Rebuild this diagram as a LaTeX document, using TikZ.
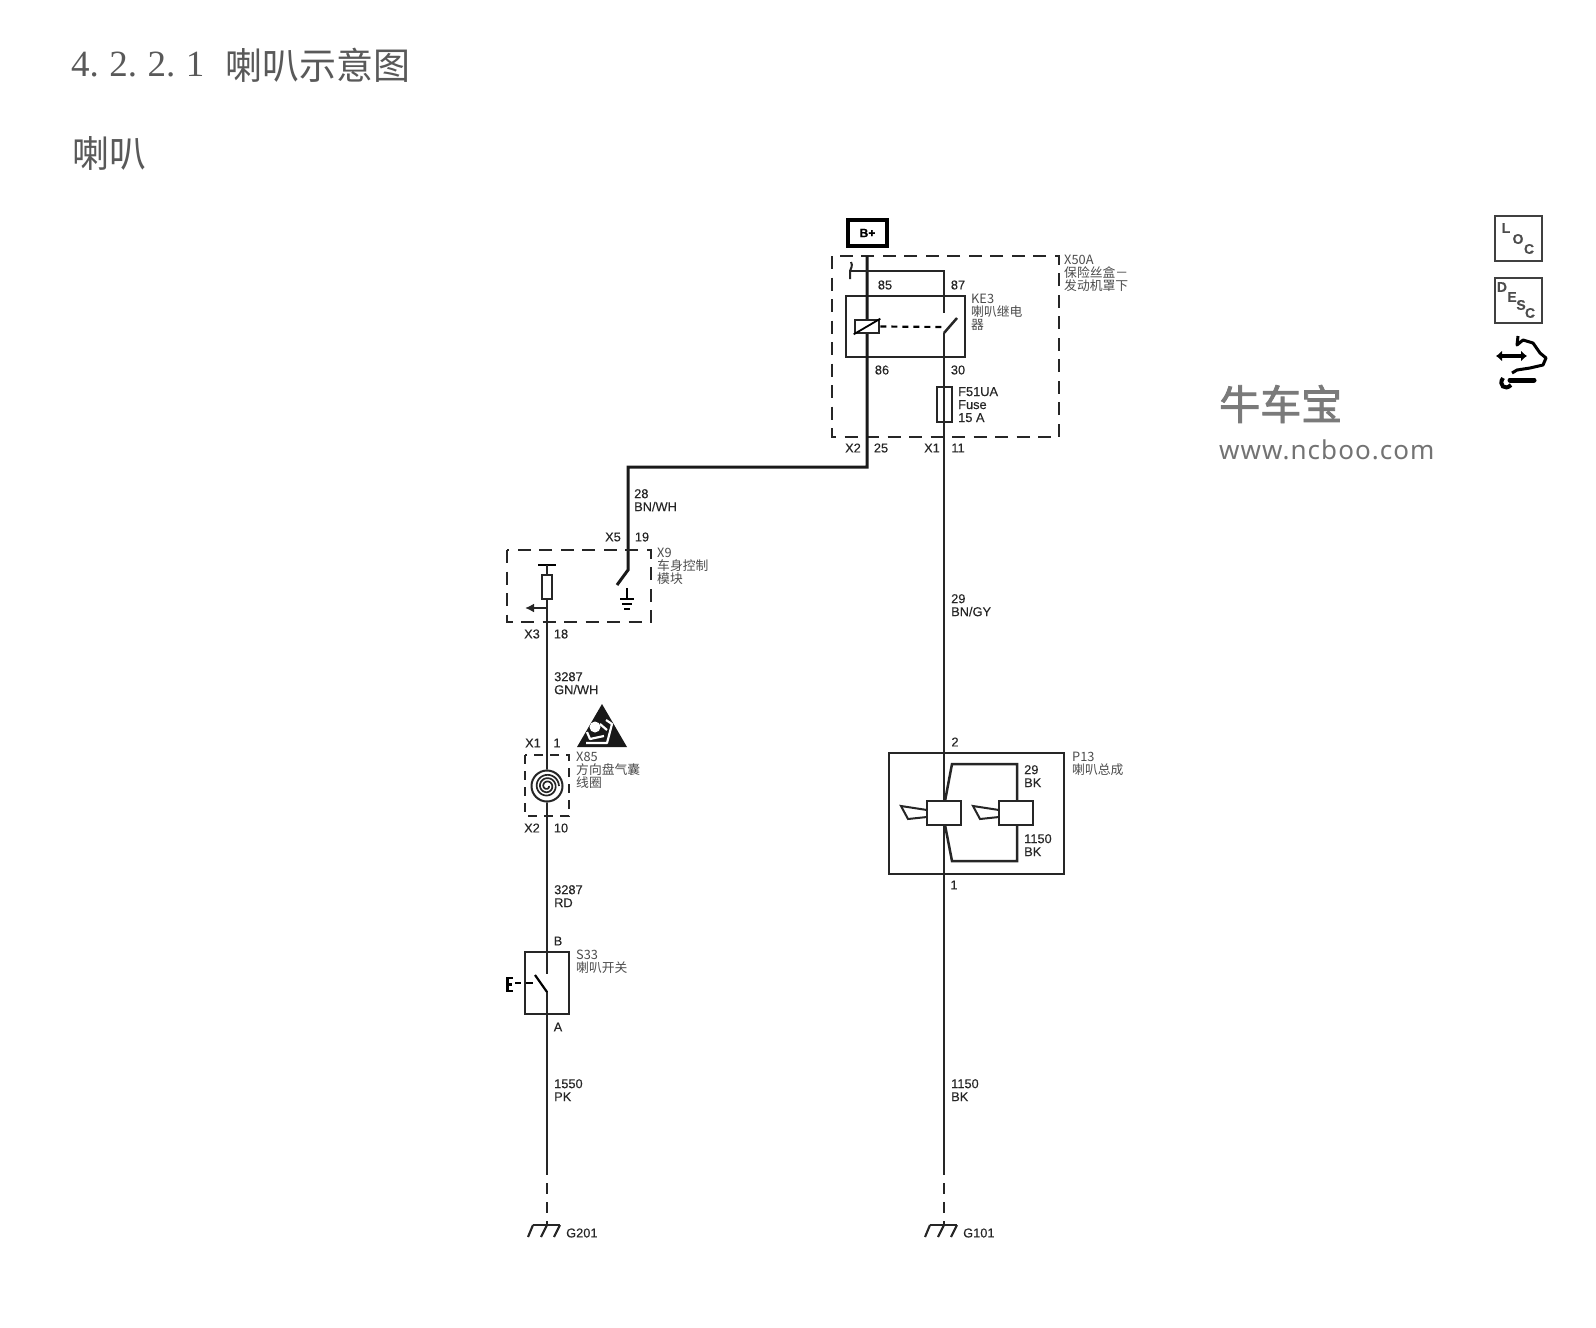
\documentclass[tikz,border=0pt]{standalone}
\usepackage{fontspec}
\usetikzlibrary{arrows.meta}
\setmainfont[FakeBold=0.25]{Liberation Sans}
\newfontfamily\cjk{Noto Sans CJK SC}
\newfontfamily\cjkmark[FakeBold=2]{Noto Sans CJK SC}
\newfontfamily\headfont{Liberation Serif}
\newfontfamily\urlfont[LetterSpace=4]{Noto Sans}
\tikzset{
  wire/.style={line width=2.5pt,color=black!85},
  thickwire/.style={line width=3pt,color=black!90},
  part/.style={draw,line width=2.6pt,color=black!85},
  dashbox/.style={draw,line width=2.8pt,color=black!85,dash pattern=on 13pt off 8.5pt},
  pin/.style={inner sep=0pt,anchor=west,text=black!85,font=\fontsize{12.8}{13}\selectfont},
  wirelabel/.style={inner sep=0pt,anchor=north west,align=left,text=black!85,font=\fontsize{12.8}{13}\selectfont},
  partlabel/.style={inner sep=0pt,anchor=north west,align=left,text=black!70,font=\cjk\fontsize{12.8}{13.2}\selectfont},
  iconbox/.style={draw,line width=2.8pt,color=black!75},
  iconletter/.style={inner sep=0pt,text=black!70,font=\bfseries\fontsize{14}{14}\selectfont},
  heading/.style={inner sep=0pt,anchor=west,text=black!65}
}
\begin{document}
\begin{tikzpicture}[x=1pt,y=-1pt]
\useasboundingbox (0,0) rectangle (1596,1328);

% headings
\draw (71,65) node[heading,font=\headfont\fontsize{37}{37}\selectfont] (headnum) {4.\hspace{10.5pt}2.\hspace{10.5pt}2.\hspace{10.5pt}1};
\draw (225,65) node[heading,font=\cjk\fontsize{37}{37}\selectfont] (headtitle) {喇叭示意图};
\draw (72,153) node[heading,font=\cjk\fontsize{37}{37}\selectfont] (subtitle) {喇叭};

% watermark
\draw (1219,404) node[inner sep=0pt,anchor=west,text=black!52,font=\cjkmark\fontsize{41}{41}\selectfont] (markname) {牛车宝};
\draw (1219,450) node[inner sep=0pt,anchor=west,text=black!55,font=\urlfont\fontsize{26}{26}\selectfont] (markurl) {www.ncboo.com};

% B+ and fuse block
\draw (867.5,233) node[draw,line width=4pt,minimum width=39pt,minimum height=26pt,inner sep=0pt,font=\bfseries\fontsize{12}{12}\selectfont] (bplus) {B+};
\draw[dashbox] (832,256) rectangle (1059,437);
\draw[part] (846,296) rectangle (965,357);
\coordinate (topleft) at (867,256);
\coordinate (coilturn) at (867,467);
\coordinate (bcmturn) at (628,467);
\coordinate (bcmcontact) at (628,570);
\coordinate (bcmopen) at (617,585);
\draw[thickwire] (topleft) -- (coilturn) -- (bcmturn) -- (bcmcontact) -- (bcmopen);

% relay
\coordinate (jumpL) at (850,271);
\coordinate (jumpR) at (944,271);
\coordinate (relaytip) at (944,313);
\draw[wire] (jumpL) -- (jumpR) -- (relaytip);
\draw[line width=2pt,color=black!85] (851,262) .. controls (853,266) and (851,268) .. (850,271) .. controls (849,274) and (851,276) .. (850,279);
\draw (867,326.5) node[part,fill=white,minimum width=24pt,minimum height=13pt,inner sep=0pt] (coil) {};
\draw[line width=1.8pt] (coil.south west) -- (coil.north east);
\coordinate (contactL) at (944,327);
\coordinate (contactA) at (944,333);
\coordinate (contactB) at (957,318);
\draw[line width=2.2pt,dash pattern=on 6pt off 5pt] (coil.east) -- (contactL);
\draw[wire] (contactB) -- (contactA);
\coordinate (gndR) at (944,1175);
\draw[wire] (contactA) -- (gndR);
\draw (944.5,404.5) node[part,minimum width=15pt,minimum height=35pt,inner sep=0pt] (fuse) {};

\draw (885,285) node[pin,anchor=center] (pinA) {85};
\draw (958,285) node[pin,anchor=center] (pinB) {87};
\draw (882,370) node[pin,anchor=center] (pinC) {86};
\draw (958,370) node[pin,anchor=center] (pinD) {30};
\draw (958,387) node[wirelabel] (fuselabel) {F51UA\\Fuse\\15 A};
\draw (853,448) node[pin,anchor=center] (pinE) {X2};
\draw (881,448) node[pin,anchor=center] (pinF) {25};
\draw (932,448) node[pin,anchor=center] (pinG) {X1};
\draw (958,448) node[pin,anchor=center] (pinH) {11};
\draw (1064,255) node[partlabel] (blocklabel) {X50A\\保险丝盒－\\发动机罩下};
\draw (971,294) node[partlabel] (relaylabel) {KE3\\喇叭继电\\器};

% wire numbers
\draw (634,489) node[wirelabel] (wireA) {28\\BN/WH};
\draw (951,594) node[wirelabel] (wireB) {29\\BN/GY};
\draw (554,672) node[wirelabel] (wireC) {3287\\GN/WH};
\draw (554,885) node[wirelabel] (wireD) {3287\\RD};
\draw (554,1079) node[wirelabel] (wireE) {1550\\PK};
\draw (951,1079) node[wirelabel] (wireF) {1150\\BK};

% body control module
\draw[dashbox] (507,550) rectangle (651,622);
\draw (613,537) node[pin,anchor=center] (pinI) {X5};
\draw (642,537) node[pin,anchor=center] (pinJ) {19};
\draw (657,548) node[partlabel] (bcmlabel) {X9\\车身控制\\模块};
\coordinate (gndtop) at (627,588);
\coordinate (gndbar) at (627,599);
\draw[line width=2pt] (gndtop) -- (gndbar);
\draw[line width=2pt] (620,599) -- (634,599) (622,604) -- (632,604) (624,609) -- (630,609);
\coordinate (fusetop) at (547,565);
\coordinate (arrowfrom) at (547,608);
\coordinate (arrowto) at (525,608);
\draw[line width=2pt] (538,565) -- (556,565);
\coordinate (gndL) at (547,1175);
\draw[wire] (fusetop) -- (gndL);
\draw (547,587) node[part,line width=2pt,fill=white,minimum width=10pt,minimum height=24pt,inner sep=0pt] (bcmfuse) {};
\draw[wire,-{Latex[length=9pt,width=9pt]}] (arrowfrom) -- (arrowto);
\draw (532,634) node[pin,anchor=center] (pinK) {X3};
\draw (561,634) node[pin,anchor=center] (pinL) {18};

% airbag coil
\fill[black!90] (602,704) -- (577,747) -- (627,747) -- cycle;
\fill[white] (595,727) circle (5.5);
\draw[white,line width=2.2pt,line join=round] (586,743) -- (607,743) -- (612,724) -- (606,720) (587,732) -- (590,739) -- (604,736) (600,724) -- (607,730);
\draw (533,743) node[pin,anchor=center] (pinM) {X1};
\draw (557,743) node[pin,anchor=center] (pinN) {1};
\draw[dashbox,dash pattern=on 9pt off 7pt] (525,755) rectangle (569,816);
\draw (576,752) node[partlabel] (coillabel) {X85\\方向盘气囊\\线圈};
\fill[white] (547,786) circle (16.5);
\draw[line width=2pt,color=black!85] (547,786) circle (15.5);
\draw[line width=1.7pt,color=black!85,domain=0:1080,samples=90,smooth,variable=\t] plot ({547+(2+\t/1080*10)*cos(\t)},{786+(2+\t/1080*10)*sin(\t)});
\draw (532,828) node[pin,anchor=center] (pinO) {X2};
\draw (561,828) node[pin,anchor=center] (pinP) {10};

% horn switch
\draw[part] (525,952) rectangle (569,1014);
\draw (558,941) node[pin,anchor=center] (pinQ) {B};
\draw (558,1027) node[pin,anchor=center] (pinR) {A};
\draw (576,950) node[partlabel] (switchlabel) {S33\\喇叭开关};
\fill[white] (544,974) rectangle (550,991);
\draw[line width=2.2pt] (535,975) -- (547,992);
\draw[line width=2.8pt] (507.5,977) -- (507.5,992) (506,978) -- (513,978) (507,984.5) -- (512,984.5) (506,991) -- (513,991);
\draw[line width=2.2pt] (515,983) -- (521,983) (526,983) -- (533,983);

% horn assembly
\draw[part] (889,753) rectangle (1064,874);
\draw (955,742) node[pin,anchor=center] (pinS) {2};
\draw (954,885) node[pin,anchor=center] (pinT) {1};
\draw (1072,752) node[partlabel] (hornlabel) {P13\\喇叭总成};
\draw (944,813) node[part,fill=white,minimum width=34pt,minimum height=24pt,inner sep=0pt] (hornA) {};
\draw (1016,813) node[part,fill=white,minimum width=34pt,minimum height=24pt,inner sep=0pt] (hornB) {};
\coordinate (loopA) at (952,764);
\coordinate (loopB) at (1017,764);
\coordinate (loopC) at (952,861);
\coordinate (loopD) at (1017,861);
\draw[wire] (945,801) -- (loopA) -- (loopB) -- (1017,801);
\draw[wire] (945,825) -- (loopC) -- (loopD) -- (1017,825);
\draw[line width=2pt,color=black!85] (927,810) -- (901,806) -- (908,819) -- (927,817);
\draw[line width=2pt,color=black!85] (999,810) -- (973,806) -- (980,819) -- (999,817);
\draw (1024,765) node[wirelabel] (hornwireA) {29\\BK};
\draw (1024,834) node[wirelabel] (hornwireB) {1150\\BK};

% grounds
\coordinate (gndLb) at (547,1226);
\coordinate (gndRb) at (944,1226);
\draw[wire,dash pattern=on 11pt off 8pt,dash phase=11pt] (gndL) -- (gndLb);
\draw[wire,dash pattern=on 11pt off 8pt,dash phase=11pt] (gndR) -- (gndRb);
\foreach \gx in {547,944}{
  \draw[line width=2.1pt,color=black!85] (\gx-14,1225) -- (\gx+13,1225);
  \draw[line width=2.1pt,color=black!85] (\gx-14,1225) -- (\gx-19,1237) (\gx,1225) -- (\gx-6,1237) (\gx+13,1225) -- (\gx+7,1237);
}
\draw (566,1233) node[pin] (gndlabelL) {G201};
\draw (963,1233) node[pin] (gndlabelR) {G101};

% side icons
\draw[iconbox] (1495,216) rectangle (1542,261);
\draw[iconbox] (1495,278) rectangle (1542,323);
\draw (1506,228) node[iconletter] (locL) {L};
\draw (1518,239) node[iconletter] (locO) {O};
\draw (1529,249) node[iconletter] (locC) {C};
\draw (1502,287) node[iconletter] (descD) {D};
\draw (1512,297) node[iconletter] (descE) {E};
\draw (1521,305) node[iconletter] (descS) {S};
\draw (1530,313) node[iconletter] (descC) {C};
\draw[line width=3pt,line join=round] (1518,336) -- (1517,345) -- (1523,340) -- (1533,343) -- (1540,353) -- (1546,358) -- (1543,365) -- (1530,368) -- (1517,370) -- (1512,373);
\draw[line width=3.4pt,{Latex[length=6pt,width=11pt]}-{Latex[length=6pt,width=11pt]}] (1496,356) -- (1527,356);
\draw[line width=5pt,line cap=round] (1510,380) -- (1534,380);
\draw[line width=4pt] (1503,378) .. controls (1498,385) and (1505,391) .. (1511,385);
\end{tikzpicture}
\end{document}
